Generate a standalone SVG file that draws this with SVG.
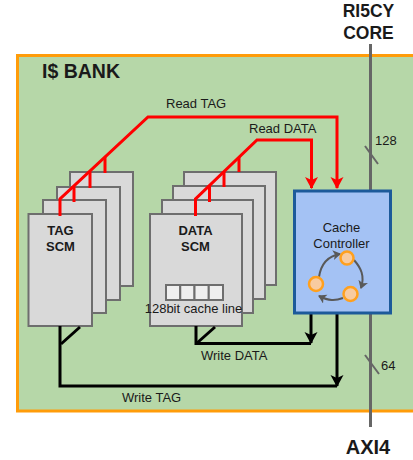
<svg xmlns="http://www.w3.org/2000/svg" width="413" height="460" viewBox="0 0 413 460">
<defs>
<marker id="ar" markerUnits="userSpaceOnUse" markerWidth="14" markerHeight="14" refX="11" refY="6.5" orient="auto"><path d="M0,0L12,6.5L0,13L3,6.5Z" fill="#f00"/></marker>
<marker id="ak" markerUnits="userSpaceOnUse" markerWidth="14" markerHeight="14" refX="11" refY="6.5" orient="auto"><path d="M0,0L12,6.5L0,13L3,6.5Z" fill="#000"/></marker>
<marker id="ag" markerUnits="userSpaceOnUse" markerWidth="11" markerHeight="11" refX="7" refY="5" orient="auto"><path d="M0,0L8,5L0,10L2,5Z" fill="#595959"/></marker>
</defs>
<style>
text{font-family:"Liberation Sans",Arial,sans-serif;fill:#1a1a1a}
.b{font-weight:bold}
.s{font-size:13px}
.mem{fill:#d9d9d9;stroke:#6e6e6e;stroke-width:2}
.red{fill:none;stroke:#f00;stroke-width:3}
.blk{fill:none;stroke:#000;stroke-width:3}
.cell{fill:#efefef;stroke:#6e6e6e;stroke-width:2}
.st{fill:#f8cba0;stroke:#ffa01e;stroke-width:2.5}
.lp{fill:none;stroke:#595959;stroke-width:2;marker-end:url(#ag)}
</style>
<rect id="bank" x="17.500" y="55.500" width="410" height="355.500" fill="#b6d7a8" stroke="#ff9c0a" stroke-width="3"/>
<text class="b" x="42" y="78" font-size="19.500">I$ BANK</text>
<g id="bus" fill="none" stroke="#666" stroke-width="3">
<path d="M370.500 44V427"/>
<path stroke-width="2" d="M365 146L378 164M365 355L379 374"/>
</g>
<text class="s" x="375" y="145">128</text>
<text class="s" x="381" y="370">64</text>
<g id="tag-scm">
<rect class="mem" x="70" y="172" width="63" height="114"/>
<rect class="mem" x="57" y="187" width="63" height="113"/>
<rect class="mem" x="43" y="200" width="63" height="113"/>
<rect class="mem" x="28.500" y="214" width="63.500" height="112"/>
<text class="b s" x="60.500" y="235" text-anchor="middle">TAG</text>
<text class="b s" x="60.500" y="251" text-anchor="middle">SCM</text>
</g>
<g id="data-scm">
<rect class="mem" x="184" y="172" width="92" height="113"/>
<rect class="mem" x="173" y="186" width="92" height="113"/>
<rect class="mem" x="162" y="200" width="91" height="113"/>
<rect class="mem" x="150" y="214" width="92" height="112"/>
<text class="b s" x="195.500" y="235" text-anchor="middle">DATA</text>
<text class="b s" x="195.500" y="251" text-anchor="middle">SCM</text>
<rect class="cell" x="166" y="285" width="14.250" height="15"/>
<rect class="cell" x="180.250" y="285" width="14.250" height="15"/>
<rect class="cell" x="194.500" y="285" width="14.250" height="15"/>
<rect class="cell" x="208.750" y="285" width="14.250" height="15"/>
<text class="s" x="193.500" y="313" text-anchor="middle">128bit cache line</text>
</g>
<g id="connectors">
<path class="red" d="M60 216V199L148 117H337V188" marker-end="url(#ar)"/>
<path class="red" d="M74 202V187M90 188V172M105 173V157"/>
<path class="red" d="M195.500 216V199L257 140H311.500V188" marker-end="url(#ar)"/>
<path class="red" d="M209.500 202V186M224 187V171M239 172V157"/>
<path class="blk" d="M60 326V386H337"/>
<path class="blk" d="M80 327L61 344"/>
<path class="blk" d="M337 313V386" marker-end="url(#ak)"/>
<path class="blk" d="M196 326V343.500H311"/>
<path class="blk" d="M215 327L197 343"/>
<path class="blk" d="M311 313V343" marker-end="url(#ak)"/>
</g>
<g id="cache-controller">
<rect x="294.500" y="191" width="96" height="122" fill="#a4c2f4" stroke="#1c5a9a" stroke-width="3"/>
<text class="s" x="341.500" y="232" text-anchor="middle">Cache</text>
<text class="s" x="341.500" y="248" text-anchor="middle">Controller</text>
<path class="lp" d="M319 277C321 264 328 256 340 254"/>
<path class="lp" d="M354 260C361 268 365 276 361 288"/>
<path class="lp" d="M343 298C335 301 329 301 319 296"/>
<circle class="st" cx="347" cy="258" r="6.500"/>
<circle class="st" cx="316" cy="284" r="7"/>
<circle class="st" cx="350.500" cy="294" r="7"/>
</g>
<text x="166" y="108" class="s">Read TAG</text>
<text x="249" y="133" class="s">Read DATA</text>
<text x="201" y="360" class="s">Write DATA</text>
<text x="122" y="402" class="s">Write TAG</text>
<text class="b" x="368.500" y="17" font-size="17.500" text-anchor="middle">RI5CY</text>
<text class="b" x="368.500" y="39" font-size="17.500" text-anchor="middle">CORE</text>
<text class="b" x="368" y="454" font-size="20" text-anchor="middle">AXI4</text>
</svg>
